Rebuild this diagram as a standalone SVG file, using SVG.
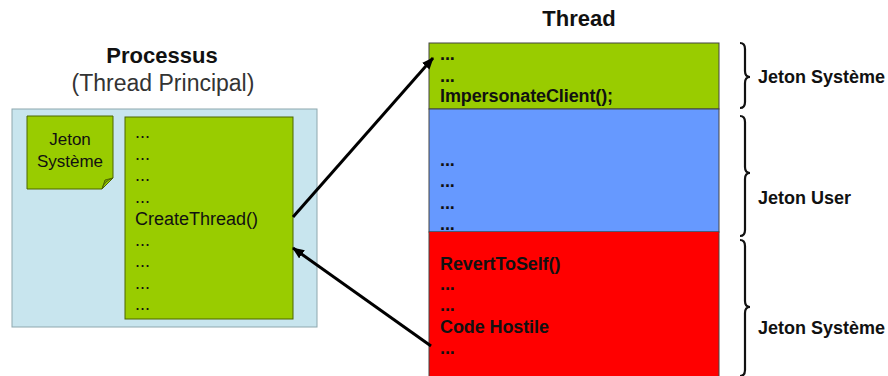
<svg xmlns="http://www.w3.org/2000/svg" width="888" height="376" viewBox="0 0 888 376">
  <style>
    text { font-family: "Liberation Sans", Arial, sans-serif; fill: #111; }
    .title { font-size: 22px; font-weight: bold; }
    .sub { font-size: 23px; fill: #333; }
    .code { font-size: 18px; }
    .tcode { font-size: 18px; font-weight: bold; letter-spacing: -0.1px; }
    .lab { font-size: 18px; font-weight: bold; }
    .brace { fill: none; stroke: #111; stroke-width: 2.2; }
    .conn { stroke: #000; stroke-width: 3; fill: none; marker-end: url(#arr); }
  </style>
  <defs>
    <marker id="arr" viewBox="0 0 12 10" refX="11" refY="5" markerWidth="12" markerHeight="10" markerUnits="userSpaceOnUse" orient="auto">
      <path d="M0 0 L12 5 L0 10 Z" fill="#000"/>
    </marker>
  </defs>
  <rect width="888" height="376" fill="#fff"/>

  <g id="processus">
    <text class="title" x="162" y="63" text-anchor="middle">Processus</text>
    <text class="sub" x="163" y="91" text-anchor="middle">(Thread Principal)</text>
    <rect x="12" y="109" width="305" height="218" fill="#c8e5ee" stroke="#8ea7ae" stroke-width="1"/>
  </g>

  <g id="jeton-note">
    <path d="M27 116 H113 V178 L102 189 H27 Z" fill="#99cc00" stroke="#4d6600" stroke-width="1"/>
    <path d="M102 189 Q104 181 113 178 L105 180 Z" fill="#7aa300" stroke="#4d6600" stroke-width="1"/>
    <text class="code" x="70" y="145" text-anchor="middle" style="font-size:17px">Jeton</text>
    <text class="code" x="70" y="167" text-anchor="middle" style="font-size:17px">Système</text>
  </g>

  <g id="main-code">
    <rect x="125" y="117" width="168" height="202" fill="#99cc00" stroke="#4d6600" stroke-width="1"/>
    <text class="code" x="135" y="138">...</text>
    <text class="code" x="135" y="159.5">...</text>
    <text class="code" x="135" y="181">...</text>
    <text class="code" x="135" y="202.5">...</text>
    <text class="code" x="135" y="225">CreateThread()</text>
    <text class="code" x="135" y="245.5">...</text>
    <text class="code" x="135" y="267">...</text>
    <text class="code" x="135" y="288.5">...</text>
    <text class="code" x="135" y="310">...</text>
  </g>

  <g id="thread">
    <text class="title" x="579" y="26" text-anchor="middle">Thread</text>
    <rect x="429" y="43" width="290" height="66" fill="#99cc00" stroke="#444" stroke-width="1"/>
    <rect x="429" y="109" width="290" height="123" fill="#6699ff" stroke="#444" stroke-width="1"/>
    <rect x="429" y="232" width="290" height="150" fill="#ff0000" stroke="#444" stroke-width="1"/>
    <text class="tcode" x="440" y="60">...</text>
    <text class="tcode" x="440" y="82">...</text>
    <text class="tcode" x="440" y="102">ImpersonateClient();</text>
    <text class="tcode" x="440" y="166">...</text>
    <text class="tcode" x="440" y="187">...</text>
    <text class="tcode" x="440" y="209">...</text>
    <text class="tcode" x="440" y="230">...</text>
    <rect x="429.5" y="232" width="289" height="2" fill="#ff0000"/>
    <text class="tcode" x="440" y="270">RevertToSelf()</text>
    <text class="tcode" x="440" y="290">...</text>
    <text class="tcode" x="440" y="311">...</text>
    <text class="tcode" x="440" y="333">Code Hostile</text>
    <text class="tcode" x="440" y="354">...</text>
  </g>

  <g id="token-system-1">
    <path class="brace" d="M740 43 Q745 43 745 49 L745 71 Q745 77 750 77 Q745 77 745 83 L745 102 Q745 108 740 108"/>
    <text class="lab" x="758" y="83">Jeton Système</text>
  </g>
  <g id="token-user">
    <path class="brace" d="M740 116 Q745 116 745 122 L745 167 Q745 173 750 173 Q745 173 745 179 L745 230 Q745 236 740 236"/>
    <text class="lab" x="758" y="204">Jeton User</text>
  </g>
  <g id="token-system-2">
    <path class="brace" d="M740 240 Q745 240 745 246 L745 301 Q745 307 750 307 Q745 307 745 313 L745 370 Q745 376 740 376"/>
    <text class="lab" x="758" y="334">Jeton Système</text>
  </g>

  <g id="connectors">
    <path class="conn" d="M293 217 L433 58"/>
    <path class="conn" d="M431 346 L293 248"/>
  </g>
</svg>
